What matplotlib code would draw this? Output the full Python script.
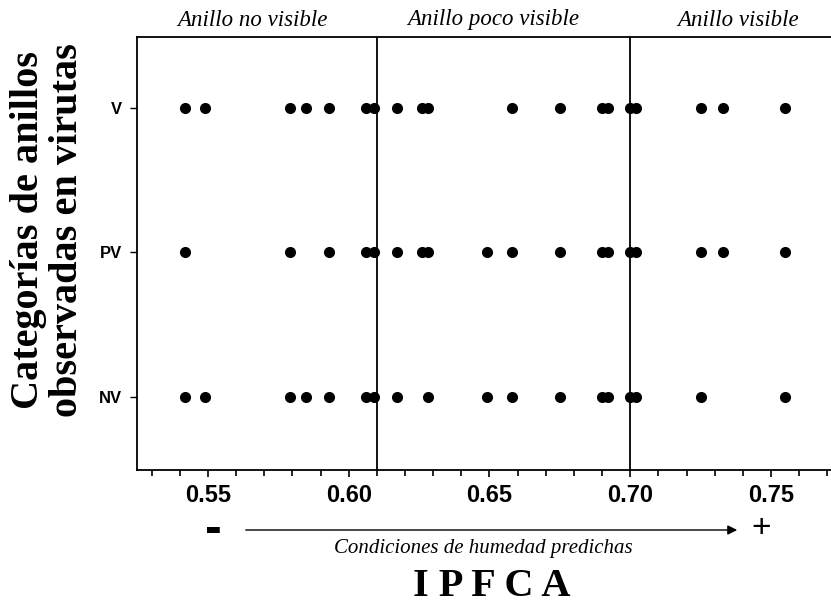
import matplotlib
matplotlib.use("Agg")
import matplotlib.pyplot as plt
from matplotlib.ticker import MultipleLocator

# IPFCA values per observed ring category
categories = ["NV", "PV", "V"]
ipfca_v = [0.542, 0.549, 0.579, 0.585, 0.593, 0.606, 0.609, 0.617, 0.626, 0.628,
           0.658, 0.675, 0.690, 0.692, 0.700, 0.702, 0.725, 0.733, 0.755]
ipfca_pv = [0.542, 0.579, 0.593, 0.606, 0.609, 0.617, 0.626, 0.628, 0.649,
            0.658, 0.675, 0.690, 0.692, 0.700, 0.702, 0.725, 0.733, 0.755]
ipfca_nv = [0.542, 0.549, 0.579, 0.585, 0.593, 0.606, 0.609, 0.617, 0.628, 0.649,
            0.658, 0.675, 0.690, 0.692, 0.700, 0.702, 0.725, 0.755]
thresholds = [0.61, 0.70]
zone_labels = ["Anillo no visible", "Anillo poco visible", "Anillo visible"]
xticks = [0.55, 0.60, 0.65, 0.70, 0.75]

W, H = 831, 606
fig = plt.figure(figsize=(W / 100, H / 100), dpi=100)
ax = fig.add_axes([137 / W, 1 - 470 / H, (W - 137) / W, 433 / H])

rows = {"NV": ipfca_nv, "PV": ipfca_pv, "V": ipfca_v}
for i, cat in enumerate(categories):
    xs = rows[cat]
    ax.plot(xs, [i + 1] * len(xs), "o", color="black", markersize=8,
            markeredgewidth=0, zorder=3)

for t in thresholds:
    ax.axvline(t, color="black", lw=1.3, zorder=2)

ax.set_xlim(0.5248, 0.7713)
ax.set_ylim(0.495, 3.491)
ax.set_yticks([1, 2, 3])
ax.set_yticklabels(categories)
ax.set_xticks(xticks)
ax.set_xticklabels([f"{v:.2f}" for v in xticks])
ax.xaxis.set_minor_locator(MultipleLocator(0.01))
ax.spines["right"].set_visible(False)
for s in ["left", "bottom", "top"]:
    ax.spines[s].set_linewidth(1.3)

ax.tick_params(axis="x", which="major", direction="out", length=5, width=1.2, pad=5)
ax.tick_params(axis="x", which="minor", direction="out", length=4, width=1.2)
ax.tick_params(axis="y", direction="out", length=5, width=1.0, pad=6)
for lab in ax.get_xticklabels():
    lab.set_fontfamily("Liberation Sans")
    lab.set_fontweight("bold")
    lab.set_fontsize(17)
for lab in ax.get_yticklabels():
    lab.set_fontfamily("Liberation Sans")
    lab.set_fontweight("bold")
    lab.set_fontsize(12)

# zone labels above the plot
zone_x = [252, 493, 738]
for lbl, px in zip(zone_labels, zone_x):
    fig.text(px / W, 1 - 20 / H, lbl, ha="center", va="center",
             family="Liberation Serif", style="italic", fontsize=16.5)

# y label
fig.text(48 / W, 1 - 230 / H, "Categorías de anillos\nobservadas en virutas",
         rotation=90, ha="center", va="center", family="Liberation Serif",
         fontweight="bold", fontsize=29, linespacing=1.1)

# humidity arrow
fig.add_artist(matplotlib.patches.FancyArrowPatch(
    (243 / W, 1 - 530 / H), (740 / W, 1 - 530 / H),
    transform=fig.transFigure, arrowstyle="-|>", mutation_scale=14,
    color="black", lw=1.0))
fig.text(213 / W, 1 - 530 / H, "-", ha="center", va="center",
         family="Liberation Sans", fontweight="bold", fontsize=36)
fig.text(761 / W, 1 - 528 / H, "+", ha="center", va="center",
         family="Liberation Sans", fontsize=24)
fig.text(483 / W, 1 - 549 / H, "Condiciones de humedad predichas",
         ha="center", va="center", family="Liberation Serif",
         style="italic", fontsize=15)
fig.text(492 / W, 1 - 586 / H, "I P F C A", ha="center", va="center",
         family="Liberation Serif", fontweight="bold", fontsize=29)

fig.savefig("out.png", dpi=100)
